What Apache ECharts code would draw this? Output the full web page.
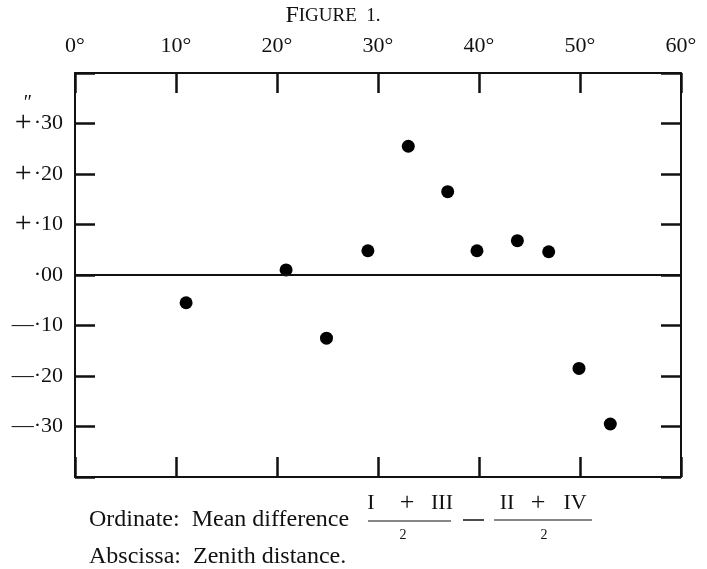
<!DOCTYPE html>
<html>
<head>
<meta charset="utf-8">
<script src="https://cdn.jsdelivr.net/npm/echarts@6/dist/echarts.min.js"></script>
<style>
  html, body { margin: 0; padding: 0; background: #fff; }
  #chart { width: 707px; height: 569px; }
</style>
</head>
<body>
<div id="chart"></div>
<script>
// 天顶距 (度)
var zenithDist = [11, 20.9, 24.9, 29, 33, 36.9, 39.8, 43.8, 46.9, 49.9, 53];
// 平均差 (角秒)
var meanDiff = [-0.055, 0.01, -0.125, 0.048, 0.255, 0.165, 0.048, 0.068, 0.046, -0.185, -0.295];
var xTicks = [0, 10, 20, 30, 40, 50, 60];
var yTicks = [-0.4, -0.3, -0.2, -0.1, 0, 0.1, 0.2, 0.3, 0.4];

var serif = '"Liberation Serif", "DejaVu Serif", serif';
var ink = '#111';

var points = zenithDist.map(function (x, i) { return [x, meanDiff[i]]; });

function yLabel(v) {
  var r = Math.round(v * 100);
  if (Math.abs(r) >= 40) return '';
  var s = '·' + String(Math.abs(r)).padStart(2, '0');
  if (r > 0) return '{p|+}' + s;
  if (r < 0) return '—' + s;
  return s;
}

var tickStyle = { show: true, inside: true, length: 20, lineStyle: { color: ink, width: 2.5 } };
var lineStyle = { show: true, onZero: false, lineStyle: { color: ink, width: 2 } };

// 小文字工具
function txt(x, y, s, size, align) {
  return {
    type: 'text', x: x, y: y,
    style: { text: s, fontFamily: serif, fontSize: size, fill: ink, align: align || 'center', verticalAlign: 'middle' }
  };
}
function bar(x1, x2, y, w) {
  return { type: 'line', shape: { x1: x1, y1: y, x2: x2, y2: y }, style: { stroke: ink, lineWidth: w || 1.2 } };
}

var myChart = echarts.init(document.getElementById('chart'));
var option = {
  backgroundColor: '#fff',
  animation: false,
  grid: { left: 75, right: 26, top: 73, bottom: 92, containLabel: false },
  xAxis: [
    {
      type: 'value', position: 'top', min: xTicks[0], max: xTicks[xTicks.length - 1], interval: 10,
      axisLine: lineStyle, axisTick: tickStyle, splitLine: { show: false },
      axisLabel: { formatter: '{value}°', margin: 16, color: ink, fontFamily: serif, fontSize: 22 }
    },
    {
      type: 'value', position: 'bottom', min: xTicks[0], max: xTicks[xTicks.length - 1], interval: 10,
      axisLine: lineStyle, axisTick: tickStyle, splitLine: { show: false },
      axisLabel: { show: false }
    }
  ],
  yAxis: [
    {
      type: 'value', position: 'left', min: yTicks[0], max: yTicks[yTicks.length - 1], interval: 0.1,
      axisLine: lineStyle, axisTick: tickStyle, splitLine: { show: false },
      axisLabel: {
        formatter: yLabel, margin: 12, color: ink, fontFamily: serif, fontSize: 22,
        rich: { p: { fontFamily: serif, fontSize: 30, color: ink, padding: [0, 2, 0, 0] } }
      }
    },
    {
      type: 'value', position: 'right', min: yTicks[0], max: yTicks[yTicks.length - 1], interval: 0.1,
      axisLine: lineStyle, axisTick: tickStyle, splitLine: { show: false },
      axisLabel: { show: false }
    }
  ],
  series: [
    {
      type: 'scatter',
      xAxisIndex: 0,
      yAxisIndex: 0,
      symbol: 'circle',
      symbolSize: 13,
      itemStyle: { color: '#000', opacity: 1 },
      data: points,
      markLine: {
        silent: true,
        symbol: 'none',
        label: { show: false },
        lineStyle: { color: ink, width: 2, type: 'solid' },
        data: [{ yAxis: 0 }]
      }
    }
  ],
  graphic: [
    {
      type: 'text', x: 333, y: 16,
      style: {
        text: '{a|F}{b|IGURE  1.}',
        align: 'center', verticalAlign: 'middle',
        rich: {
          a: { fontFamily: serif, fontSize: 24, fill: ink },
          b: { fontFamily: serif, fontSize: 19, fill: ink }
        }
      }
    },
    txt(28, 104, '″', 20),
    txt(89, 520, 'Ordinate:  Mean difference', 24, 'left'),
    txt(371, 503, 'I', 22), txt(407, 503, '+', 26), txt(442, 503, 'III', 22),
    bar(368, 451, 521),
    txt(403, 535, '2', 14),
    bar(463, 484, 520, 1.5),
    txt(507, 503, 'II', 22), txt(538, 503, '+', 26), txt(575, 503, 'IV', 22),
    bar(494, 592, 520),
    txt(544, 535, '2', 14),
    txt(89, 557, 'Abscissa:  Zenith distance.', 24, 'left')
  ]
};
myChart.setOption(option);
</script>
</body>
</html>
